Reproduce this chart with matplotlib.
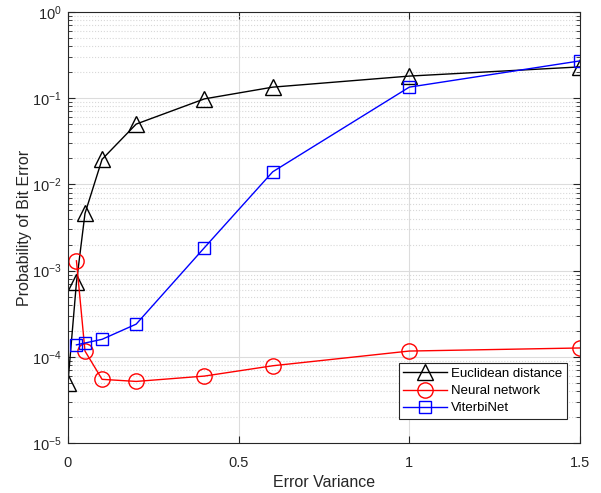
import matplotlib
matplotlib.use('Agg')
import matplotlib.pyplot as plt
from matplotlib.ticker import LogLocator, NullFormatter

plt.rcParams['font.family'] = ['Liberation Sans', 'DejaVu Sans']
plt.rcParams['mathtext.default'] = 'regular'

# data
x_euc = [0, 0.025, 0.05, 0.1, 0.2, 0.4, 0.6, 1.0, 1.5]
y_euc = [5.0e-5, 7.3e-4, 4.6e-3, 1.95e-2, 5.0e-2, 9.8e-2, 1.34e-1, 1.8e-1, 2.3e-1]

x_nn = [0.025, 0.05, 0.1, 0.2, 0.4, 0.6, 1.0, 1.5]
y_nn = [1.3e-3, 1.17e-4, 5.5e-5, 5.2e-5, 6.0e-5, 7.9e-5, 1.17e-4, 1.27e-4]

x_vn = [0.025, 0.05, 0.1, 0.2, 0.4, 0.6, 1.0, 1.5]
y_vn = [1.38e-4, 1.45e-4, 1.6e-4, 2.4e-4, 1.85e-3, 1.4e-2, 1.34e-1, 2.7e-1]

y_ticks = [1e-5, 1e-4, 1e-3, 1e-2, 1e-1, 1e0]
y_ticklabels = ['$10^{-5}$', '$10^{-4}$', '$10^{-3}$', '$10^{-2}$', '$10^{-1}$', '$10^{0}$']

fig = plt.figure(figsize=(6.01, 4.93), dpi=100)
ax = fig.add_axes([0.113, 0.101, 0.852, 0.875])

ax.semilogy(x_euc, y_euc, 'k-^', ms=12, mfc='none', mew=1.0, lw=1.0, label='Euclidean distance')
ax.semilogy(x_nn, y_nn, 'r-o', ms=11, mfc='none', mew=1.0, lw=1.0, label='Neural network')
ax.semilogy(x_vn, y_vn, 'b-s', ms=9, mfc='none', mew=1.0, lw=1.0, label='ViterbiNet')

ax.set_xlim(0, 1.5)
ax.set_ylim(1e-5, 1)
ax.set_xticks([0, 0.5, 1, 1.5])
ax.set_xticklabels(['0', '0.5', '1', '1.5'])
ax.set_yticks(y_ticks)
ax.set_yticklabels(y_ticklabels)
ax.yaxis.set_minor_locator(LogLocator(base=10, subs=range(2, 10), numticks=10))
ax.yaxis.set_minor_formatter(NullFormatter())

ax.grid(True, which='major', color='#dcdcdc', lw=0.8)
ax.grid(True, which='minor', axis='y', color='#d8d8d8', ls=':', lw=0.8)
ax.set_axisbelow(True)

ax.tick_params(which='both', direction='in', top=True, right=True, labelsize=10.5,
               color='#262626', labelcolor='#262626')
ax.tick_params(axis='x', pad=9)
ax.tick_params(axis='y', pad=4.5)
ax.tick_params(which='major', length=5)
ax.tick_params(which='minor', length=3)
for s in ax.spines.values():
    s.set_color('#262626')
    s.set_linewidth(0.8)

ax.set_xlabel('Error Variance', fontsize=11.5, color='#262626', labelpad=4)
ax.set_ylabel('Probability of Bit Error', fontsize=11.5, color='#262626', labelpad=0)

leg = ax.legend(loc='lower right', bbox_to_anchor=(0.975, 0.056), fontsize=9.5,
                fancybox=False, framealpha=1, edgecolor='#262626', handlelength=3.3,
                borderaxespad=0, labelspacing=0.38, borderpad=0.35, handletextpad=0.35)
leg.get_frame().set_linewidth(0.8)

fig.savefig('out.png', dpi=100)
